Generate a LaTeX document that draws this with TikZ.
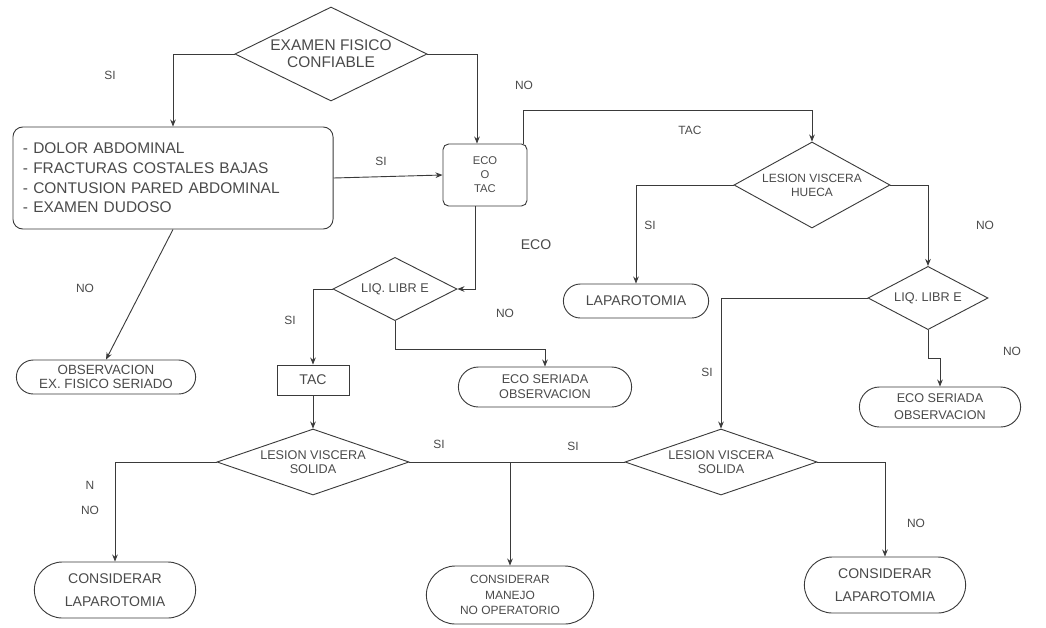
\documentclass[tikz,border=0pt]{standalone}
\usepackage{fontspec}
\setmainfont{Liberation Sans}
\usetikzlibrary{arrows.meta,shapes.geometric,shapes.misc}
\definecolor{ink}{HTML}{3A3A3A}
\definecolor{txt}{HTML}{4A4A4A}
\tikzset{
    flow/.style={draw=ink, line width=0.65pt, -{Stealth[length=5pt,width=4pt]}},
    link/.style={draw=ink, line width=0.65pt},
    decision/.style={diamond, draw=ink, line width=0.65pt, inner sep=0pt,
        align=center, text=txt},
    terminal/.style={rounded rectangle, draw=ink, line width=0.65pt,
        inner sep=1pt, align=center, text=txt},
    process/.style={rectangle, draw=ink, line width=0.65pt, align=center, text=txt},
    answer/.style={text=txt, inner sep=1pt, font=\fontsize{8.5}{10}\selectfont}
}

\begin{document}
\begin{tikzpicture}[x=0.025cm, y=-0.025cm]
    \useasboundingbox (0,0) rectangle (1046,627);

    % decisiones y cajas
    \node[decision, aspect=2.04, minimum width=4.8cm, minimum height=2.35cm,
        font=\fontsize{11}{12}\selectfont] (examen) at (331,54) {EXAMEN FISICO\\CONFIABLE};
    \node[process, rounded corners=7pt, minimum width=8cm, minimum height=2.55cm,
        text width=7.5cm, align=left, font=\fontsize{11}{14}\selectfont] (sintomas) at (173,178)
        {- DOLOR ABDOMINAL\\- FRACTURAS COSTALES BAJAS\\- CONTUSION PARED ABDOMINAL\\- EXAMEN DUDOSO};
    \node[process, rounded corners=4pt, minimum width=2.1cm, minimum height=1.55cm,
        inner sep=1pt, font=\fontsize{8}{10}\selectfont] (eco) at (485,175) {ECO\\O\\TAC};
    \node[decision, aspect=1.8, minimum width=3.9cm, minimum height=2.15cm,
        font=\fontsize{8.5}{10}\selectfont] (hueca) at (812,185) {LESION VISCERA\\HUECA};
    \node[decision, aspect=2, minimum width=3.1cm, minimum height=1.58cm,
        font=\fontsize{9}{10}\selectfont] (liqA) at (395,289) {LIQ. LIBR E};
    \node[decision, aspect=1.9, minimum width=3cm, minimum height=1.58cm,
        font=\fontsize{9}{10}\selectfont] (liqB) at (928,298) {LIQ. LIBR E};
    \node[terminal, minimum width=3.7cm, minimum height=0.85cm,
        font=\fontsize{10}{11}\selectfont] (lapA) at (636,301) {LAPAROTOMIA};
    \node[terminal, minimum width=4.55cm, minimum height=0.85cm,
        font=\fontsize{9.5}{10}\selectfont] (obs) at (106,377) {OBSERVACION\\EX. FISICO SERIADO};
    \node[process, minimum width=1.8cm, minimum height=0.75cm, inner sep=1pt,
        font=\fontsize{10}{11}\selectfont] (tac) at (313,380) {TAC};
    \node[terminal, minimum width=4.4cm, minimum height=1cm,
        font=\fontsize{9}{10.5}\selectfont] (ecoserA) at (545,387) {ECO SERIADA\\OBSERVACION};
    \node[terminal, minimum width=4.1cm, minimum height=1cm,
        font=\fontsize{9}{12}\selectfont] (ecoserB) at (940,407) {ECO SERIADA\\OBSERVACION};
    \node[decision, aspect=2.9, minimum width=4.8cm, minimum height=1.65cm,
        font=\fontsize{9}{10}\selectfont] (solA) at (313,462) {LESION VISCERA\\SOLIDA};
    \node[decision, aspect=2.9, minimum width=4.8cm, minimum height=1.65cm,
        font=\fontsize{9}{10}\selectfont] (solB) at (721,462) {LESION VISCERA\\SOLIDA};
    \node[terminal, minimum width=4.1cm, minimum height=1.4cm,
        font=\fontsize{10}{16}\selectfont] (consA) at (115,590) {CONSIDERAR\\LAPAROTOMIA};
    \node[terminal, minimum width=4.25cm, minimum height=1.45cm,
        font=\fontsize{8.5}{11}\selectfont] (manejo) at (510,595) {CONSIDERAR\\MANEJO\\NO OPERATORIO};
    \node[terminal, minimum width=4.1cm, minimum height=1.4cm,
        font=\fontsize{10}{16}\selectfont] (consB) at (885,585) {CONSIDERAR\\LAPAROTOMIA};

    % respuestas
    \node[answer] (siA) at (110,75) {SI};
    \node[answer] (noA) at (524,85) {NO};
    \node[answer] (siB) at (381,161) {SI};
    \node[answer] (tacL) at (690,130) {TAC};
    \node[answer, font=\fontsize{10}{11}\selectfont] (ecoL) at (536,245) {ECO};
    \node[answer] (siC) at (650,225) {SI};
    \node[answer] (noB) at (985,225) {NO};
    \node[answer] (noC) at (85,288) {NO};
    \node[answer] (siD) at (290,320) {SI};
    \node[answer] (noD) at (505,313) {NO};
    \node[answer] (siE) at (707,372) {SI};
    \node[answer] (noE) at (1012,351) {NO};
    \node[answer] (siF) at (439,444) {SI};
    \node[answer] (siG) at (573,446) {SI};
    \node[answer] (nL) at (90,485) {N};
    \node[answer] (noF) at (90,510) {NO};
    \node[answer] (noG) at (916,523) {NO};

    % conectores
    \draw[flow] (examen.west) -| (sintomas.north);
    \draw[flow] (examen.east) -| ([xshift=-0.2cm]eco.north);
    \draw[flow] (sintomas.east) -- (eco.west);
    \draw[flow] (sintomas.south) -- (obs.north);
    \coordinate (tacbend) at (523,110);
    \draw[flow] (eco.north -| tacbend) -- (tacbend) -| (hueca.north);
    \draw[flow] ([xshift=-0.25cm]eco.south) |- (liqA.east);
    \draw[flow] (liqA.west) -| (tac.north);
    \draw[flow] (liqA.south) -- ++(0,28) -| (ecoserA.north);
    \draw[flow] (tac.south) -- (solA.north);
    \draw[flow] (hueca.west) -| (lapA.north);
    \draw[flow] (hueca.east) -| (liqB.north);
    \draw[flow] (liqB.west) -| (solB.north);
    \draw[flow] (liqB.south) -- ++(0,28) -| (ecoserB.north);
    \draw[flow] (solA.west) -| (consA.north);
    \draw[link] (solA.east) -- (solB.west);
    \draw[flow] (solA.east -| manejo.north) -- (manejo.north);
    \draw[flow] (solB.east) -| (consB.north);
\end{tikzpicture}
\end{document}
